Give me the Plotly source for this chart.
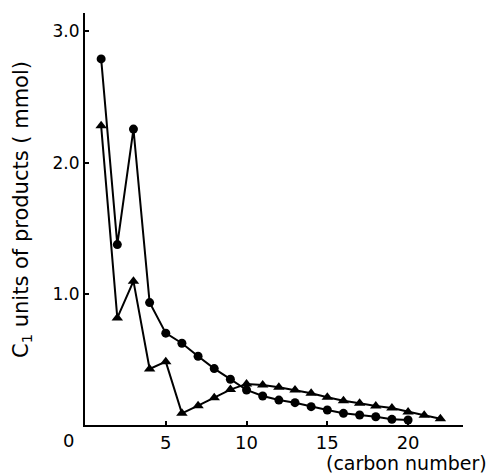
import plotly.graph_objects as go

carbon_circles = list(range(1, 21))
circles = [2.79, 1.375, 2.255, 0.933, 0.70, 0.623, 0.524, 0.43, 0.349, 0.267,
           0.221, 0.19, 0.17, 0.14, 0.114, 0.089, 0.076, 0.063, 0.043, 0.038]

carbon_triangles = list(range(1, 23))
triangles = [2.28, 0.816, 1.096, 0.427, 0.483, 0.089, 0.147, 0.208, 0.27, 0.313,
             0.305, 0.288, 0.267, 0.242, 0.211, 0.185, 0.166, 0.145, 0.13, 0.10,
             0.074, 0.048]

x_ticks = [5, 10, 15, 20]
y_ticks = [1.0, 2.0, 3.0]
y_tick_labels = ["1.0", "2.0", "3.0"]

FONT = "DejaVu Sans"
W, H = 486, 473
L, R, T, B = 85, 23, 13, 48
PW, PH = W - L - R, H - T - B


def px_x(p):
    return (p - L) / PW


def px_y(p):
    return (H - B - p) / PH


fig = go.Figure()
fig.add_trace(go.Scatter(
    x=carbon_circles, y=circles, mode="lines+markers",
    line=dict(color="black", width=2),
    marker=dict(symbol="circle", size=9, color="black"),
    showlegend=False, cliponaxis=False))
fig.add_trace(go.Scatter(
    x=carbon_triangles, y=triangles, mode="lines+markers",
    line=dict(color="black", width=2),
    marker=dict(symbol="triangle-up", size=10, color="black"),
    showlegend=False, cliponaxis=False))

fig.update_layout(
    width=W, height=H,
    margin=dict(l=L, r=R, t=T, b=B),
    paper_bgcolor="white", plot_bgcolor="white",
    font=dict(family=FONT, color="black", size=17),
    xaxis=dict(range=[0, 23.4], tickvals=x_ticks, ticks="inside", ticklen=4,
               tickwidth=1.5, tickcolor="black", showline=True, linecolor="black",
               linewidth=2, showgrid=False, zeroline=False,
               tickfont=dict(family=FONT, size=18, color="black")),
    yaxis=dict(range=[0, 3.14], tickvals=y_ticks, ticktext=y_tick_labels,
               ticks="inside", ticklen=4, tickwidth=1.5, tickcolor="black",
               showline=True, linecolor="black", linewidth=2, showgrid=False,
               zeroline=False,
               tickfont=dict(family=FONT, size=17, color="black")),
    annotations=[
        dict(text="0", x=px_x(68), y=px_y(440), xref="paper", yref="paper",
             showarrow=False, font=dict(family=FONT, size=18, color="black"),
             xanchor="center", yanchor="middle"),
        dict(text="(carbon number)", x=px_x(324), y=px_y(463), xref="paper",
             yref="paper", showarrow=False, xanchor="left", yanchor="middle",
             font=dict(family=FONT, size=19, color="black")),
        dict(text="C<sub>1</sub> units of products ( mmol)", x=px_x(22),
             y=px_y(210), xref="paper", yref="paper", showarrow=False,
             textangle=-90, xanchor="center", yanchor="middle",
             font=dict(family=FONT, size=21, color="black")),
    ],
)

fig.write_html("out.html", config={"displayModeBar": False},
               post_script="document.body.style.margin='0';document.body.style.padding='0';")
